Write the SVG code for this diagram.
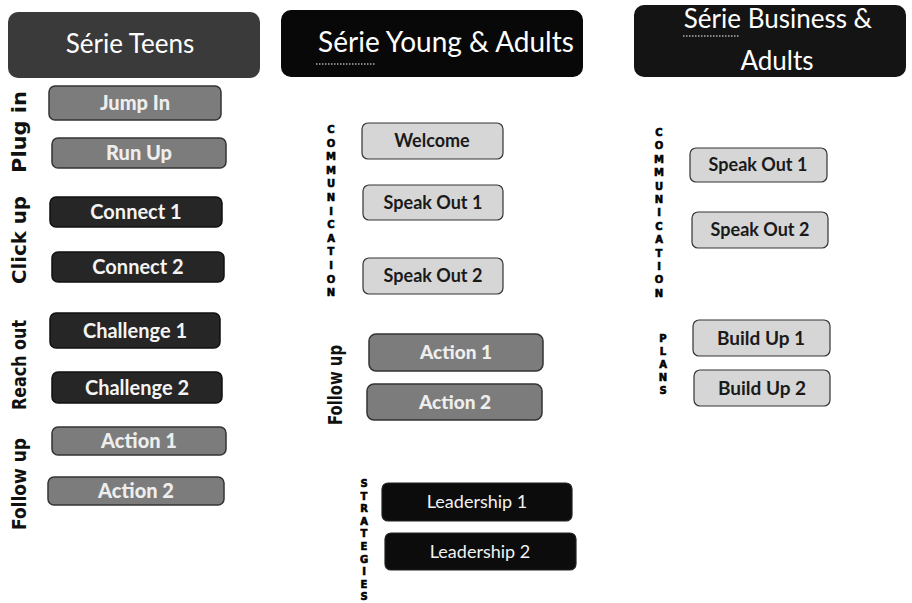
<svg xmlns="http://www.w3.org/2000/svg" width="912" height="603" viewBox="0 0 912 603">
<defs>
<style>
.hdr{font-family:Lato,"Open Sans","Liberation Sans",sans-serif;fill:#fff;text-anchor:middle}
.lbl{font-family:Lato,"Open Sans","Liberation Sans",sans-serif;font-size:18px;text-anchor:middle}
.big{font-size:20px}
.mid{font-size:19px}
.dark rect{fill:#262626;stroke:#111;stroke-width:1.5}
.dark text{fill:#f4f4f4;font-weight:bold}
.gray rect{fill:#7c7c7c;stroke:#333;stroke-width:1.5}
.gray text{fill:#eeeeee;font-weight:900}
.light rect{fill:#d6d6d6;stroke:#333;stroke-width:1.2}
.light text{fill:#1a1a1a;font-weight:bold}
.black rect{fill:#0c0c0c;stroke:#222;stroke-width:1.2}
.black text{fill:#f2f2f2;font-weight:normal}
.side{font-family:"Liberation Sans Narrow","DejaVu Sans Condensed","Liberation Sans",sans-serif;font-weight:bold;font-size:20px;fill:#111;text-anchor:middle}
.stack{font-family:"DejaVu Sans","Liberation Sans",sans-serif;font-weight:900;font-size:10px;fill:#000;stroke:#000;stroke-width:0.6;text-anchor:middle}
.sq{fill:none;stroke:#fff;stroke-width:1;stroke-dasharray:1.5 1.5}
</style>
</defs>

<g id="header-teens">
<rect x="8" y="12" width="252" height="66" rx="10" fill="#3a3a3a"/>
<text class="hdr" x="130" y="53" font-size="26">Série Teens</text>
</g>
<g id="header-young">
<rect x="281" y="10" width="302" height="67" rx="10" fill="#080808"/>
<text class="hdr" x="446" y="52" font-size="28">Série Young &amp; Adults</text>
<line class="sq" x1="316" y1="64" x2="376" y2="64"/>
</g>
<g id="header-business">
<rect x="634" y="5" width="272" height="72" rx="10" fill="#141414"/>
<text class="hdr" x="778" y="28" font-size="26">Série Business &amp;</text>
<text class="hdr" x="777" y="70" font-size="26">Adults</text>
<line class="sq" x1="683" y1="36" x2="740" y2="36"/>
</g>

<!-- left column side labels -->
<g id="label-plug-in"><text class="side" transform="translate(26,132) rotate(-90)" textLength="82" lengthAdjust="spacingAndGlyphs">Plug in</text></g>
<g id="label-click-up"><text class="side" transform="translate(26,240) rotate(-90)" textLength="88" lengthAdjust="spacingAndGlyphs">Click up</text></g>
<g id="label-reach-out"><text class="side" transform="translate(26,365) rotate(-90)" textLength="90" lengthAdjust="spacingAndGlyphs">Reach out</text></g>
<g id="label-follow-up-1"><text class="side" transform="translate(26,484) rotate(-90)" textLength="92" lengthAdjust="spacingAndGlyphs">Follow up</text></g>

<!-- left column nodes -->
<g id="jump-in" class="gray lbl big"><rect x="49" y="86" width="172" height="34" rx="6"/><text x="135" y="110">Jump In</text></g>
<g id="run-up" class="gray lbl big"><rect x="52" y="138" width="174" height="30" rx="6"/><text x="139" y="160">Run Up</text></g>
<g id="connect-1" class="dark lbl big"><rect x="50" y="197" width="172" height="30" rx="6"/><text x="136" y="219">Connect 1</text></g>
<g id="connect-2" class="dark lbl big"><rect x="52" y="252" width="172" height="30" rx="6"/><text x="138" y="274">Connect 2</text></g>
<g id="challenge-1" class="dark lbl big"><rect x="50" y="313" width="170" height="35" rx="6"/><text x="135" y="338">Challenge 1</text></g>
<g id="challenge-2" class="dark lbl big"><rect x="52" y="372" width="170" height="31" rx="6"/><text x="137" y="395">Challenge 2</text></g>
<g id="action-1-teens" class="gray lbl big"><rect x="52" y="427" width="174" height="28" rx="6"/><text x="139" y="448">Action 1</text></g>
<g id="action-2-teens" class="gray lbl big"><rect x="48" y="477" width="176" height="28" rx="6"/><text x="136" y="498">Action 2</text></g>

<!-- middle column -->
<g id="label-communication-1">
<text class="stack" x="331" y="133">C</text><text class="stack" x="331" y="146.6">O</text><text class="stack" x="331" y="160.2">M</text><text class="stack" x="331" y="173.8">M</text><text class="stack" x="331" y="187.4">U</text><text class="stack" x="331" y="201">N</text><text class="stack" x="331" y="214.6">I</text><text class="stack" x="331" y="228.2">C</text><text class="stack" x="331" y="241.8">A</text><text class="stack" x="331" y="255.4">T</text><text class="stack" x="331" y="269">I</text><text class="stack" x="331" y="282.6">O</text><text class="stack" x="331" y="296.2">N</text>
</g>
<g id="welcome" class="light lbl"><rect x="362" y="123" width="141" height="36" rx="6"/><text x="432" y="147">Welcome</text></g>
<g id="speak-out-1-young" class="light lbl"><rect x="363" y="185" width="140" height="35" rx="6"/><text x="433" y="209">Speak Out 1</text></g>
<g id="speak-out-2-young" class="light lbl"><rect x="363" y="258" width="140" height="36" rx="6"/><text x="433" y="282">Speak Out 2</text></g>

<g id="label-follow-up-2"><text class="side" transform="translate(342,385) rotate(-90)" textLength="80" lengthAdjust="spacingAndGlyphs">Follow up</text></g>
<g id="action-1-young" class="gray lbl mid"><rect x="369" y="334" width="174" height="37" rx="7"/><text x="456" y="359">Action 1</text></g>
<g id="action-2-young" class="gray lbl mid"><rect x="367" y="384" width="175" height="36" rx="7"/><text x="455" y="409">Action 2</text></g>

<g id="label-strategies">
<text class="stack" x="364" y="487">S</text><text class="stack" x="364" y="499.6">T</text><text class="stack" x="364" y="512.2">R</text><text class="stack" x="364" y="524.8">A</text><text class="stack" x="364" y="537.4">T</text><text class="stack" x="364" y="550">E</text><text class="stack" x="364" y="562.6">G</text><text class="stack" x="364" y="575.2">I</text><text class="stack" x="364" y="587.8">E</text><text class="stack" x="364" y="600">S</text>
</g>
<g id="leadership-1" class="black lbl"><rect x="382" y="483" width="190" height="38" rx="6"/><text x="477" y="508">Leadership 1</text></g>
<g id="leadership-2" class="black lbl"><rect x="385" y="533" width="191" height="37" rx="6"/><text x="480" y="558">Leadership 2</text></g>

<!-- right column -->
<g id="label-communication-2">
<text class="stack" x="659" y="136">C</text><text class="stack" x="659" y="149.4">O</text><text class="stack" x="659" y="162.8">M</text><text class="stack" x="659" y="176.2">M</text><text class="stack" x="659" y="189.6">U</text><text class="stack" x="659" y="203">N</text><text class="stack" x="659" y="216.4">I</text><text class="stack" x="659" y="229.8">C</text><text class="stack" x="659" y="243.2">A</text><text class="stack" x="659" y="256.6">T</text><text class="stack" x="659" y="270">I</text><text class="stack" x="659" y="283.4">O</text><text class="stack" x="659" y="296.8">N</text>
</g>
<g id="speak-out-1-business" class="light lbl"><rect x="690" y="148" width="137" height="34" rx="6"/><text x="758" y="171">Speak Out 1</text></g>
<g id="speak-out-2-business" class="light lbl"><rect x="692" y="212" width="136" height="36" rx="6"/><text x="760" y="236">Speak Out 2</text></g>

<g id="label-plans">
<text class="stack" x="663" y="342">P</text><text class="stack" x="663" y="355">L</text><text class="stack" x="663" y="368">A</text><text class="stack" x="663" y="381">N</text><text class="stack" x="663" y="394">S</text>
</g>
<g id="build-up-1" class="light lbl mid"><rect x="693" y="320" width="137" height="36" rx="6"/><text x="761" y="345">Build Up 1</text></g>
<g id="build-up-2" class="light lbl mid"><rect x="694" y="370" width="136" height="36" rx="6"/><text x="762" y="395">Build Up 2</text></g>

<g id="connectors"></g>
</svg>
